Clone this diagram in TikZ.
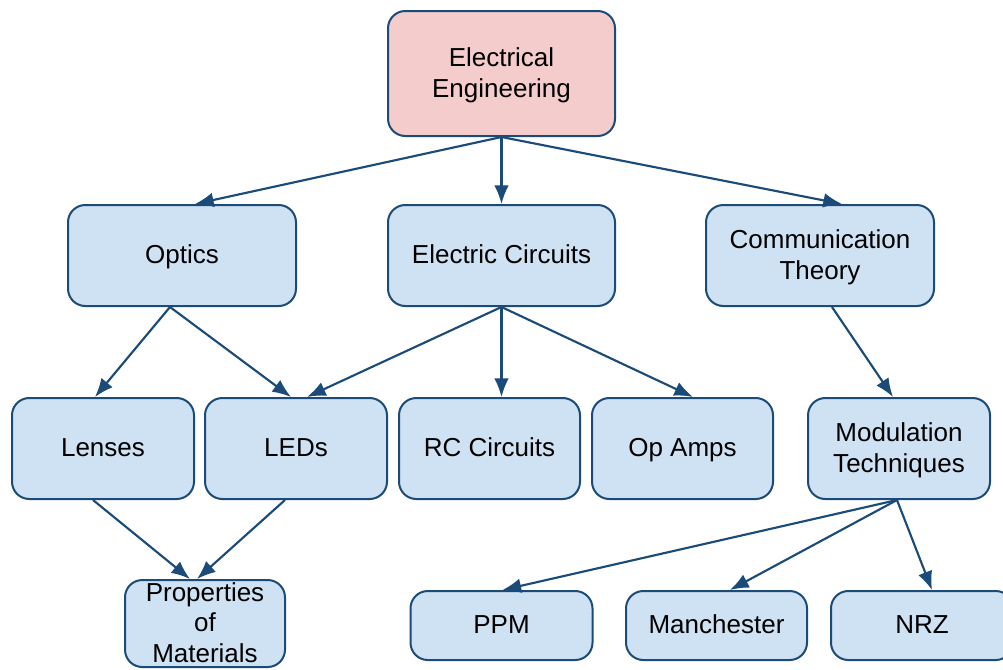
\documentclass[tikz,border=0pt]{standalone}
\usepackage{fontspec}
\setmainfont{Liberation Sans}
\usetikzlibrary{arrows.meta,calc}
\definecolor{bordc}{HTML}{1B4B78}
\definecolor{bluef}{HTML}{CFE2F3}
\definecolor{pinkf}{HTML}{F4CCCC}
\newcommand\lt[1]{\raisebox{0pt}[14pt][1.5pt]{#1}}
\begin{document}
\begin{tikzpicture}[x=0.75pt,y=-0.75pt,
  box/.style={draw=bordc,line width=1.5pt,fill=bluef,rounded corners=13pt,
    align=center,inner sep=0pt,font=\fontsize{19.5pt}{23pt}\selectfont},
  rootbox/.style={box,fill=pinkf},
  arr/.style={draw=bordc,line width=1.6pt,-{Latex[length=14pt,width=11pt]}}]
\clip (0,0) rectangle (1003,669);
\fill[white] (0,0) rectangle (1003,669);
\node[rootbox,minimum width=170.25pt,minimum height=93.75pt] (ee) at (501.5,73.5) {\lt{Electrical}\\\lt{Engineering}};
\node[box,minimum width=171pt,minimum height=75.75pt] (optics) at (182,255.5) {\lt{Optics}};
\node[box,minimum width=170.25pt,minimum height=75.75pt] (circ) at (501.5,255.5) {\lt{Electric Circuits}};
\node[box,minimum width=171pt,minimum height=75.75pt] (comm) at (820,255.5) {\lt{Communication}\\\lt{Theory}};
\node[box,minimum width=136.5pt,minimum height=75.75pt] (lenses) at (103,448.5) {\lt{Lenses}};
\node[box,minimum width=136.5pt,minimum height=75.75pt] (leds) at (296,448.5) {\lt{LEDs}};
\node[box,minimum width=135.75pt,minimum height=75.75pt] (rc) at (489.5,448.5) {\lt{RC Circuits}};
\node[box,minimum width=135.75pt,minimum height=75.75pt] (opamps) at (682.5,448.5) {\lt{Op Amps}};
\node[box,minimum width=136.5pt,minimum height=75.75pt] (mod) at (899,448.5) {\lt{Modulation}\\\lt{Techniques}};
\node[box,minimum width=120pt,minimum height=65.25pt] (props) at (205,623.5) {\lt{Properties}\\\lt{of}\\\lt{Materials}};
\node[box,minimum width=136.5pt,minimum height=51.75pt] (ppm) at (501.5,625.5) {\lt{PPM}};
\node[box,minimum width=135.75pt,minimum height=51.75pt] (manch) at (716.5,625.5) {\lt{Manchester}};
\node[box,minimum width=136.5pt,minimum height=51.75pt] (nrz) at (922,625.5) {\lt{NRZ}};
% connectors
\draw[arr] (ee.south) -- ($(optics.north)+(13,0)$);
\draw[arr] (ee.south) -- (circ.north);
\draw[arr] (ee.south) -- ($(comm.north)+(22,0)$);
\draw[arr] ($(optics.south)+(-12,0)$) -- ($(lenses.north)+(-8,0)$);
\draw[arr] ($(optics.south)+(-12,0)$) -- ($(leds.north)+(-5,0)$);
\draw[arr] (circ.south) -- ($(leds.north)+(11,0)$);
\draw[arr] (circ.south) -- ($(rc.north)+(12,0)$);
\draw[arr] (circ.south) -- ($(opamps.north)+(10.5,0)$);
\draw[arr] ($(comm.south)+(12,0)$) -- ($(mod.north)+(-6,0)$);
\draw[arr] ($(lenses.south)+(-10,0)$) -- ($(props.north)+(-15,0)$);
\draw[arr] ($(leds.south)+(-11,0)$) -- ($(props.north)+(-8,0)$);
\draw[arr] ($(mod.south)+(-2,0)$) -- ($(ppm.north)+(1,0)$);
\draw[arr] ($(mod.south)+(-2,0)$) -- ($(manch.north)+(13.5,0)$);
\draw[arr] ($(mod.south)+(-2,0)$) -- ($(nrz.north)+(10,0)$);
\end{tikzpicture}
\end{document}
